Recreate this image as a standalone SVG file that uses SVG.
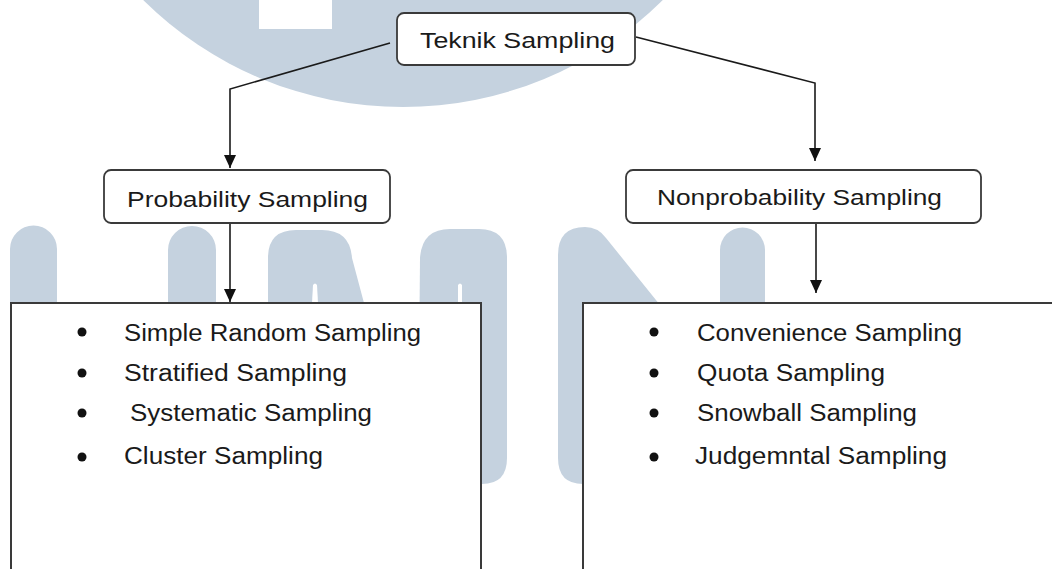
<svg xmlns="http://www.w3.org/2000/svg" width="1052" height="569" viewBox="0 0 1052 569">
  <style>
    .wm { fill: #c5d2df; stroke: none; }
    .node { fill: #ffffff; stroke: #3a3a3a; stroke-width: 1.8; }
    .list { fill: #ffffff; stroke: #3a3a3a; stroke-width: 2; }
    .lbl { font-family: "Liberation Sans", Arial, sans-serif; font-size: 22px; fill: #1a1a1a; }
    .item { font-family: "Liberation Sans", Arial, sans-serif; font-size: 23px; fill: #1a1a1a; }
    .bul { fill: #111111; }
    .conn { fill: none; stroke: #1a1a1a; stroke-width: 1.6; }
  </style>
  <defs>
    <marker id="arrow" markerUnits="userSpaceOnUse" viewBox="0 0 13 12" refX="13" refY="6" markerWidth="13" markerHeight="12" orient="auto">
      <path d="M0,0 L13,6 L0,12 Z" fill="#111111"/>
    </marker>
  </defs>
  <rect x="0" y="0" width="1052" height="569" fill="#ffffff"/>

  <g id="watermark">
    <circle class="wm" cx="403" cy="-262" r="369"/>
    <rect x="259" y="0" width="73" height="29" fill="#ffffff"/>
    <!-- U -->
    <path class="wm" d="M10,249 A23.5,23.5 0 0 1 57,249 L57,440 A40,40 0 0 0 97,480 L128,480 A40,40 0 0 0 168,440 L168,250 A24,24 0 0 1 216,250 L216,445 A45,45 0 0 1 171,490 L55,490 A45,45 0 0 1 10,445 Z"/>
    <!-- M left arch -->
    <path class="wm" d="M268,258 Q268,230 296,230 L322,230 Q350,230 352,258 L364,303 L364,480 L268,480 Z"/>
    <!-- M right arch -->
    <path class="wm" d="M420,258 Q422,229 450,229 L479,229 Q507,229 507,258 L507,458 Q507,484 482,484 L418,484 Z"/>
    <!-- M notches -->
    <path d="M312,303 L313,285 Q315,282 317,285 L318,303 Z" fill="#ffffff"/>
    <path d="M458,303 L458,285 Q460,282 462,285 L462,303 Z" fill="#ffffff"/>
    <!-- N left -->
    <path class="wm" d="M558,255 Q558,227 585,227 Q598,227 606,238 L660,305 L660,480 L583,484 Q558,484 558,458 Z"/>
    <!-- N right -->
    <path class="wm" d="M720,250 A22.5,22.5 0 0 1 765,250 L765,480 L720,480 Z"/>
  </g>

  <g id="connectors">
    <path class="conn" d="M390,43 L230,89 L230,168" marker-end="url(#arrow)"/>
    <path class="conn" d="M636,37 L815,83 L815,161" marker-end="url(#arrow)"/>
    <path class="conn" d="M230,223 L230,302" marker-end="url(#arrow)"/>
    <path class="conn" d="M816,223 L816,293" marker-end="url(#arrow)"/>
  </g>

  <g id="node-teknik">
    <rect class="node" x="397" y="13" width="238" height="52" rx="7"/>
    <text class="lbl" x="420" y="48" textLength="195" lengthAdjust="spacingAndGlyphs">Teknik Sampling</text>
  </g>

  <g id="node-probability">
    <rect class="node" x="104" y="170" width="286" height="53" rx="7"/>
    <text class="lbl" x="127" y="207" textLength="241" lengthAdjust="spacingAndGlyphs">Probability Sampling</text>
  </g>

  <g id="node-nonprobability">
    <rect class="node" x="626" y="170" width="355" height="53" rx="7"/>
    <text class="lbl" x="657" y="205" textLength="285" lengthAdjust="spacingAndGlyphs">Nonprobability Sampling</text>
  </g>

  <g id="node-probability-list">
    <rect class="list" x="11" y="303" width="470" height="290"/>
    <circle class="bul" cx="82" cy="332" r="4.5"/>
    <circle class="bul" cx="82" cy="373" r="4.5"/>
    <circle class="bul" cx="82" cy="413" r="4.5"/>
    <circle class="bul" cx="82" cy="457" r="4.5"/>
    <text class="item" x="124" y="341" textLength="297" lengthAdjust="spacingAndGlyphs">Simple Random Sampling</text>
    <text class="item" x="124" y="381" textLength="223" lengthAdjust="spacingAndGlyphs">Stratified Sampling</text>
    <text class="item" x="130" y="421" textLength="242" lengthAdjust="spacingAndGlyphs">Systematic Sampling</text>
    <text class="item" x="124" y="464" textLength="199" lengthAdjust="spacingAndGlyphs">Cluster Sampling</text>
  </g>

  <g id="node-nonprobability-list">
    <rect class="list" x="583" y="303" width="490" height="290"/>
    <circle class="bul" cx="654" cy="332" r="4.5"/>
    <circle class="bul" cx="654" cy="373" r="4.5"/>
    <circle class="bul" cx="654" cy="413" r="4.5"/>
    <circle class="bul" cx="654" cy="457" r="4.5"/>
    <text class="item" x="697" y="341" textLength="265" lengthAdjust="spacingAndGlyphs">Convenience Sampling</text>
    <text class="item" x="697" y="381" textLength="188" lengthAdjust="spacingAndGlyphs">Quota Sampling</text>
    <text class="item" x="697" y="421" textLength="220" lengthAdjust="spacingAndGlyphs">Snowball Sampling</text>
    <text class="item" x="695" y="464" textLength="252" lengthAdjust="spacingAndGlyphs">Judgemntal Sampling</text>
  </g>
</svg>
